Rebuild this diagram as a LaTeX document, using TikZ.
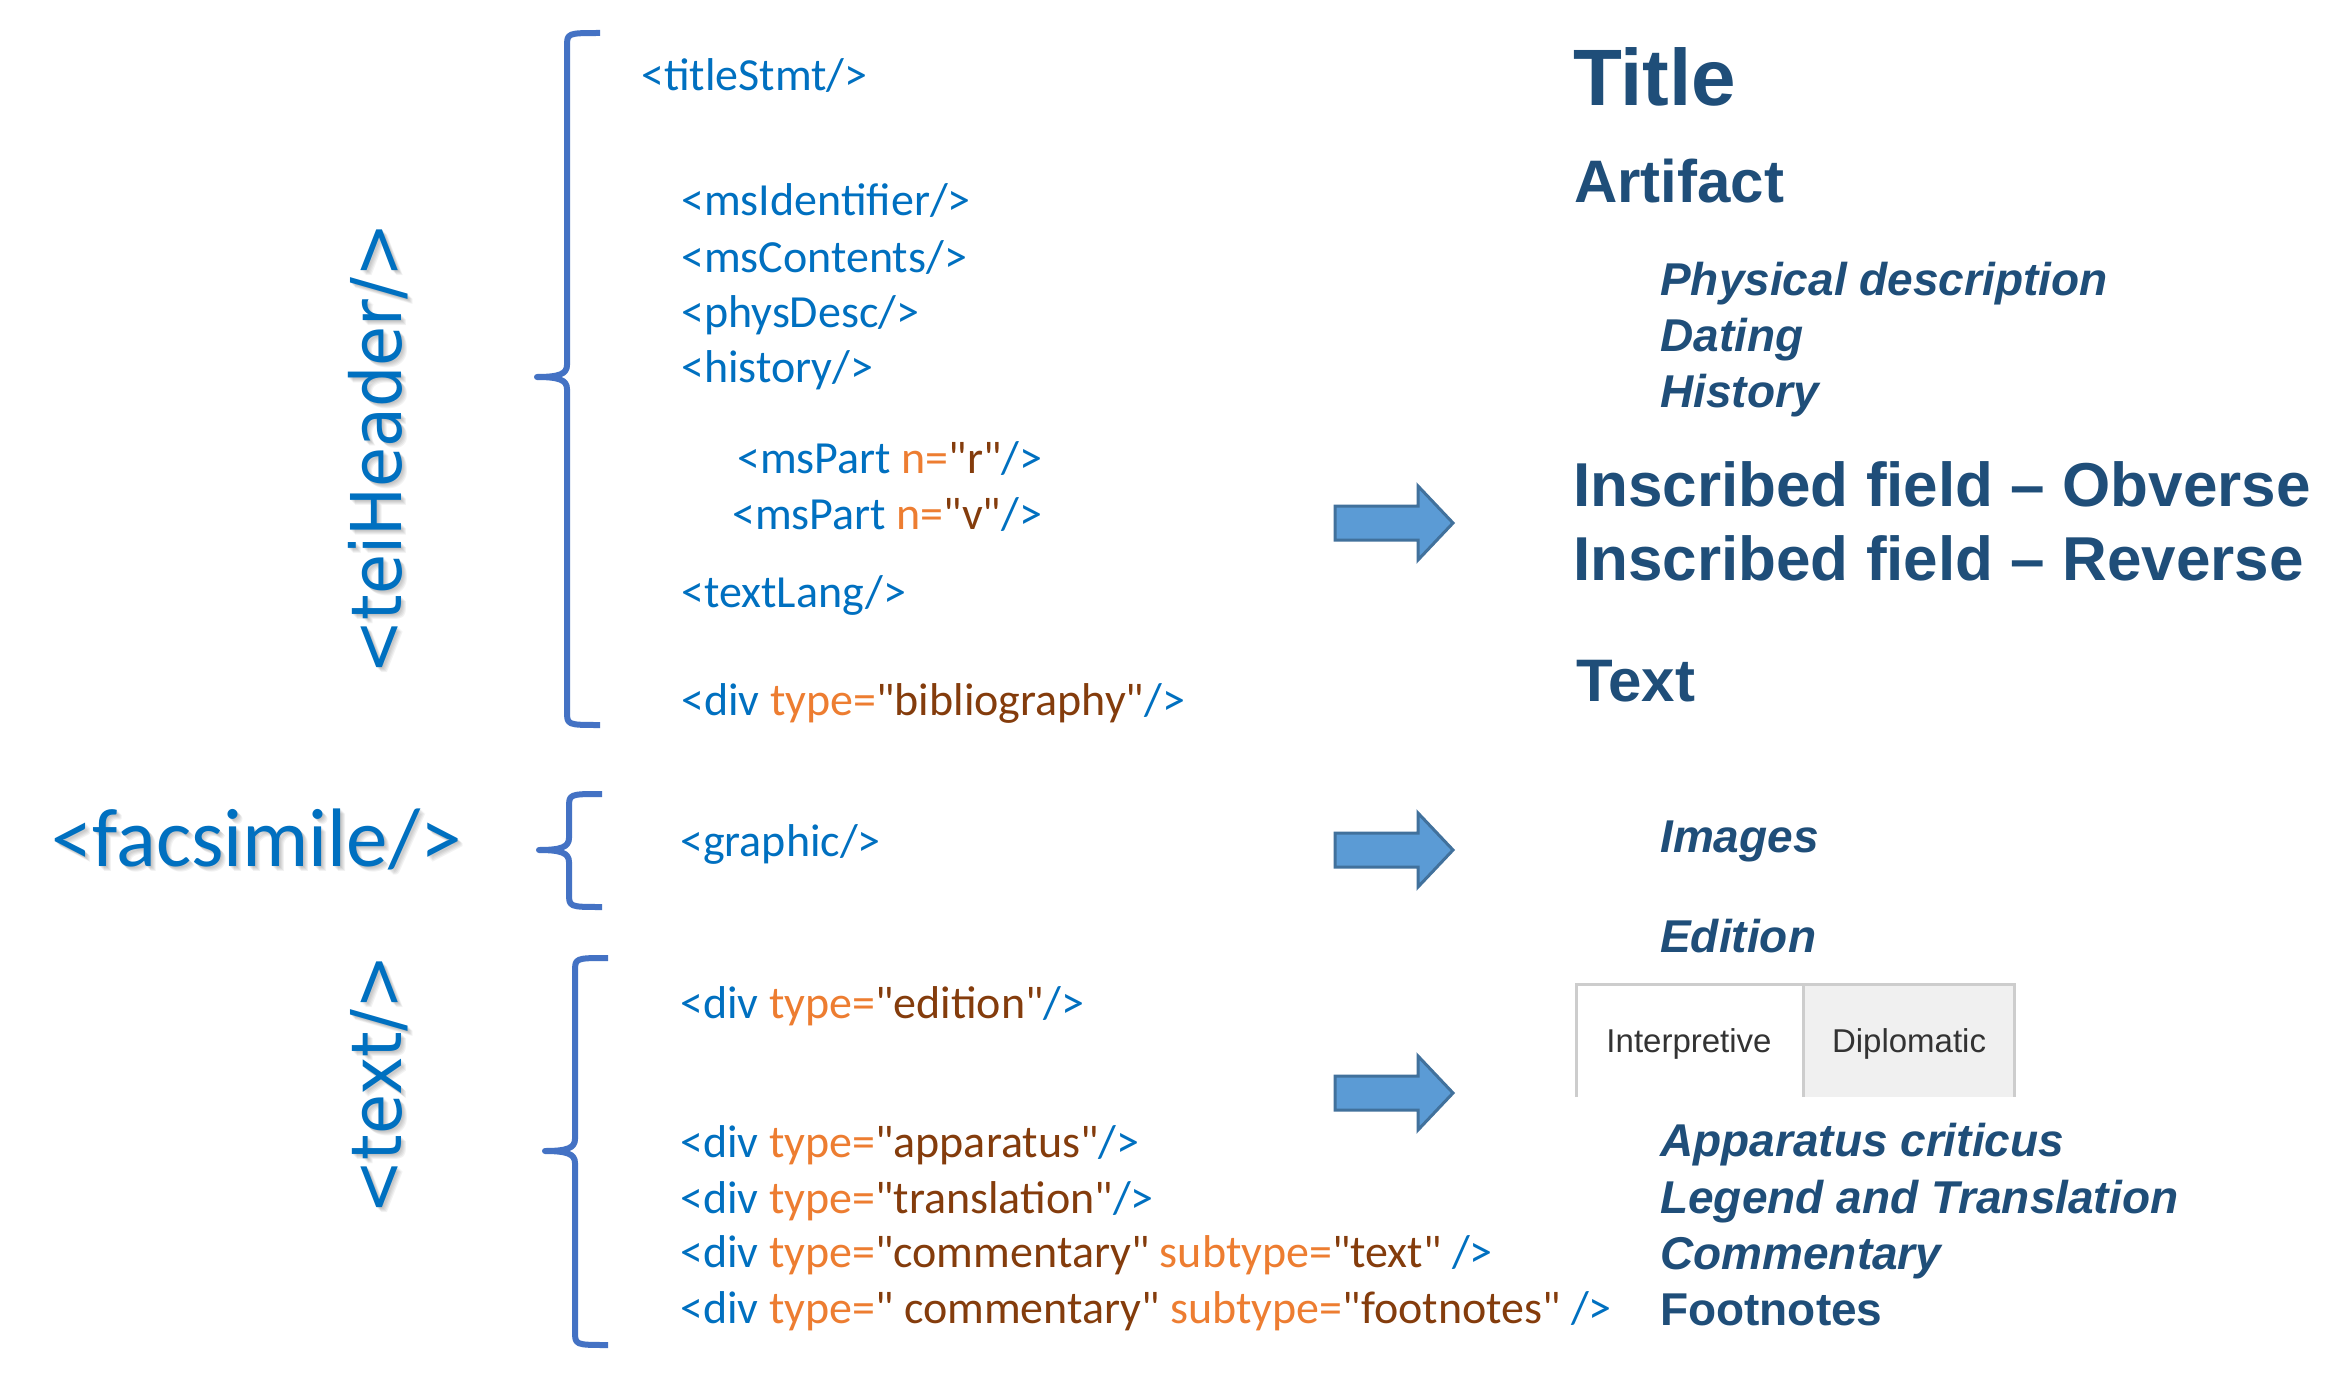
\documentclass[tikz,border=0pt]{standalone}
\usepackage{fontspec}
\setmainfont{Carlito}[Ligatures=TeXOff]
\newfontfamily\headfont[FakeStretch=0.93]{DejaVu Sans}
\newfontfamily\viewfont{Liberation Sans}
\usepackage{tikz}
\usetikzlibrary{positioning}
\definecolor{teiblue}{HTML}{0070C0}
\definecolor{teiattr}{HTML}{ED7D31}
\definecolor{teival}{HTML}{843C0C}
\definecolor{viewblue}{HTML}{1F4E79}
\definecolor{bracecol}{HTML}{4472C4}
\definecolor{arrowfill}{HTML}{5B9BD5}
\definecolor{arrowline}{HTML}{41719C}
\definecolor{tabline}{HTML}{CDCDCD}
\definecolor{tabfill}{HTML}{F0F0F0}
\definecolor{tabtext}{HTML}{333333}
\newcommand{\tg}[1]{\textcolor{teiblue}{#1}}
\newcommand{\atr}[1]{\textcolor{teiattr}{#1}}
\newcommand{\vlu}[1]{\textcolor{teival}{#1}}
% brace: x of the stem / top / tip / bottom
\def\braces{
  567/33/377/725,
  569/794/850/907,
  575/958/1151/1345
}
\def\arrowrows{523, 850, 1093}
\tikzset{
  code/.style      = {anchor=base west, inner sep=0pt, text=teiblue, font=\fontsize{46}{55}\selectfont},
  sectionlabel/.style = {inner sep=0pt, text=teiblue, font=\headfont\fontsize{70}{80}\selectfont},
  shadowtext/.style = {text=black, text opacity=0.05},
  viewbig/.style   = {anchor=base west, inner sep=0pt, text=viewblue, font=\viewfont\bfseries\fontsize{62}{70}\selectfont},
  viewsub/.style   = {anchor=base west, inner sep=0pt, text=viewblue, font=\viewfont\bfseries\itshape\fontsize{46}{55}\selectfont},
  tablabel/.style  = {anchor=base, inner sep=0pt, text=tabtext, font=\viewfont\fontsize{33}{40}\selectfont},
  teibrace/.style  = {draw=bracecol, line width=6pt, line join=round},
  blockarrow/.style = {fill=arrowfill, draw=arrowline, line width=3pt, line join=miter},
  tabborder/.style = {draw=tabline, line width=3pt}
}
\begin{document}
\begin{tikzpicture}[x=1pt,y=-1pt]
  \fill[white] (0,0) rectangle (2350,1378);
  \useasboundingbox (0,0) rectangle (2350,1378);
  % section labels, soft shadow first
  \foreach \s in {1,...,5} {
    \node[sectionlabel, shadowtext, anchor=base, rotate=90] at (401+\s,449+\s) {<teiHeader/>};
    \node[sectionlabel, shadowtext, anchor=base, rotate=90] at (401+\s,1085+\s) {<text/>};
    \node[sectionlabel, shadowtext, anchor=base west, font=\fontsize{83}{90}\selectfont] at (51+\s,866+\s) {<facsimile/>};
  }
  \node[sectionlabel, anchor=base, rotate=90] (teiheader) at (401,449) {<teiHeader/>};
  \node[sectionlabel, anchor=base, rotate=90] (textsec) at (401,1085) {<text/>};
  \node[sectionlabel, anchor=base west, font=\fontsize{83}{90}\selectfont] (facsimile) at (51,866) {<facsimile/>};
  % braces
  \foreach \bx/\btop/\btip/\bbot in \braces {
    \draw[teibrace] ({\bx+33},\btop) .. controls (\bx,\btop) .. (\bx,{\btop+14})
      -- (\bx,{\btip-12}) .. controls (\bx,{\btip-3}) and ({\bx-8},\btip) .. ({\bx-30},\btip)
      .. controls ({\bx-8},\btip) and (\bx,{\btip+3}) .. (\bx,{\btip+12})
      -- (\bx,{\bbot-14}) .. controls (\bx,\bbot) .. ({\bx+33},\bbot);
  }
  % TEI elements
  \node[code] (titlestmt) at (641,91) {<titleStmt/>};
  \node[code] (msidentifier) at (681,215) {<msIdentifier/>};
  \node[code] (mscontents) at (681,272) {<msContents/>};
  \node[code] (physdesc) at (681,327) {<physDesc/>};
  \node[code] (historyel) at (681,382) {<history/>};
  \node[code] (mspartr) at (737,473) {\tg{<msPart} \atr{n=}\vlu{"r"}\tg{/>}};
  \node[code] (mspartv) at (732,529) {\tg{<msPart} \atr{n=}\vlu{"v"}\tg{/>}};
  \node[code] (textlang) at (681,607) {<textLang/>};
  \node[code] (bibl) at (681,715) {\tg{<div} \atr{type=}\vlu{"bibliography"}\tg{/>}};
  \node[code] (graphic) at (680,856) {<graphic/>};
  \node[code] (edition) at (680,1018) {\tg{<div} \atr{type=}\vlu{"edition"}\tg{/>}};
  \node[code] (apparatus) at (680,1157) {\tg{<div} \atr{type=}\vlu{"apparatus"}\tg{/>}};
  \node[code] (translation) at (680,1213) {\tg{<div} \atr{type=}\vlu{"translation"}\tg{/>}};
  \node[code] (commtext) at (680,1267) {\tg{<div} \atr{type=}\vlu{"commentary"} \atr{subtype=}\vlu{"text"} \tg{/>}};
  \node[code] (commnotes) at (680,1323) {\tg{<div} \atr{type=}\vlu{"\ commentary"} \atr{subtype=}\vlu{"footnotes"} \tg{/>}};
  % block arrows
  \foreach \ay in \arrowrows {
    \draw[blockarrow] (1335,{\ay-17}) -- (1418,{\ay-17}) -- (1418,{\ay-37}) -- (1453,\ay)
      -- (1418,{\ay+37}) -- (1418,{\ay+17}) -- (1335,{\ay+17}) -- cycle;
  }
  % edition view
  \node[viewbig, font=\viewfont\bfseries\fontsize{80}{90}\selectfont] (title) at (1573,106) {Title};
  \node[viewbig, font=\viewfont\bfseries\fontsize{60}{70}\selectfont] (artifact) at (1574,202) {Artifact};
  \node[viewsub] (physical) at (1660,295) {Physical description};
  \node[viewsub] (dating) at (1660,351) {Dating};
  \node[viewsub] (history) at (1660,407) {History};
  \node[viewbig] (obverse) at (1573,506) {Inscribed field – Obverse};
  \node[viewbig] (reverse) at (1573,580) {Inscribed field – Reverse};
  \node[viewbig, font=\viewfont\bfseries\fontsize{60}{70}\selectfont] (textview) at (1576,701) {Text};
  \node[viewsub] (images) at (1660,852) {Images};
  \node[viewsub] (editionview) at (1660,952) {Edition};
  % tabs
  \fill[tabfill] (1803,984) rectangle (2014,1097);
  \draw[tabborder] (1576,1097) -- (1576,984) -- (2014,984) -- (2014,1097);
  \draw[tabborder] (1803,984) -- (1803,1097);
  \node[tablabel] (interpretive) at (1689,1052) {Interpretive};
  \node[tablabel] (diplomatic) at (1909,1052) {Diplomatic};
  \node[viewsub] (appcrit) at (1660,1156) {Apparatus criticus};
  \node[viewsub] (legend) at (1660,1213) {Legend and Translation};
  \node[viewsub] (commentary) at (1660,1269) {Commentary};
  \node[viewsub, font=\viewfont\bfseries\fontsize{46}{55}\selectfont] (footnotes) at (1660,1325) {Footnotes};
\end{tikzpicture}
\end{document}
